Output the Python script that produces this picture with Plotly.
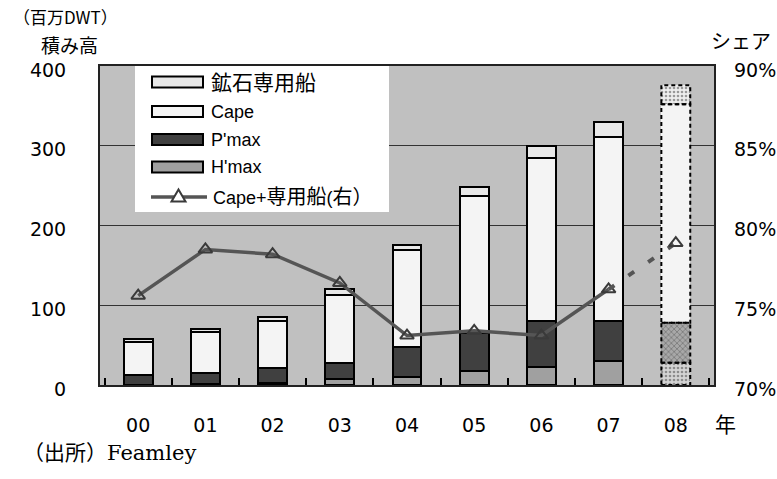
import numpy as np
import plotly.graph_objects as go

# ---- data (百万DWT / %) ----
years = ["00", "01", "02", "03", "04", "05", "06", "07", "08"]
hmax = [0, 1, 3, 7, 10, 18, 22, 30, 28]
pmax = [12, 14, 18, 21, 38, 47, 58, 50, 50]
cape = [42, 52, 59, 84.5, 121.5, 172.5, 205, 231, 274]
ore = [3.5, 3.5, 5.4, 8.5, 5.5, 10.5, 15, 19, 24]
share = [75.6, 78.5, 78.2, 76.4, 73.1, 73.4, 73.1, 76.0, 78.9]

series_names = ["H'max", "P'max", "Cape", "鉱石専用船"]
series_vals = [hmax, pmax, cape, ore]

# ---- styling ----
W, H = 777, 479
PL, PR, PT, PB = 100, 714, 66, 385
BG = "#c0c0c0"
fills = {"H'max": "#a0a0a0", "P'max": "#404040", "Cape": "#f4f4f4", "鉱石専用船": "#e8e8e8"}
# forecast-year (08) fills / patterns
fc_fill = {"H'max": "#d4d4d4", "P'max": "#a8a8a8", "Cape": "#f4f4f4", "鉱石専用船": "#eeeeee"}
fc_shape = {"H'max": ".", "P'max": "x", "Cape": "", "鉱石専用船": "."}
fc_fg = {"H'max": "#9a9a9a", "P'max": "#505050", "Cape": "#f4f4f4", "鉱石専用船": "#c8c8c8"}
LINE_C = "#555555"
MARK_C = "#3a3a3a"
BARGAP = 0.57
n = len(years)
last = n - 1

JP = "Noto Sans CJK JP"
SANS = "DejaVu Sans, " + JP


def px(x):
    return (x - PL) / (PR - PL)


def py(y):
    return (PB - y) / (PB - PT)


fig = go.Figure()

for name, vals in zip(series_names, series_vals):
    colors = [fills[name]] * last + [fc_fill[name]]
    shapes_ = [""] * last + [fc_shape[name]]
    fgs = [fills[name]] * last + [fc_fg[name]]
    lw = [2] * last + [0]
    fig.add_trace(go.Bar(
        x=years, y=vals, name=name, yaxis="y", showlegend=False,
        marker=dict(color=colors, line=dict(color="#000000", width=lw),
                    pattern=dict(shape=shapes_, fgcolor=fgs, fillmode="overlay",
                                 size=4, solidity=0.35)),
    ))

# share line: actual years solid, forecast segment dashed
fig.add_trace(go.Scatter(
    x=years[:last], y=share[:last], yaxis="y2", mode="lines+markers",
    showlegend=False, line=dict(color=LINE_C, width=3.5),
    marker=dict(symbol="triangle-up-open", size=12, color=MARK_C, line=dict(width=2, color=MARK_C)),
))
fig.add_trace(go.Scatter(
    x=years[last - 1:], y=share[last - 1:], yaxis="y2", mode="lines",
    showlegend=False, line=dict(color=LINE_C, width=4, dash="7px,17px"),
))
fig.add_trace(go.Scatter(
    x=years[last:], y=share[last:], yaxis="y2", mode="markers", showlegend=False,
    marker=dict(symbol="triangle-up-open", size=12, color=MARK_C, line=dict(width=2, color=MARK_C)),
))

shapes = []
# dashed outlines around the forecast-year stack segments
half = (1 - BARGAP) / 2
base = 0.0
for vals in series_vals:
    top = base + vals[last]
    shapes.append(dict(type="rect", xref="x", yref="y", x0=last - half, x1=last + half,
                       y0=base, y1=top, line=dict(color="#000000", width=2, dash="4px,3px"),
                       fillcolor="rgba(0,0,0,0)", layer="above"))
    base = top

# legend panel
shapes.append(dict(type="rect", xref="paper", yref="paper", x0=px(135), x1=px(389),
                   y0=py(212), y1=py(66), fillcolor="#ffffff", line=dict(width=0), layer="above"))
annotations = []
legend_rows = [("鉱石専用船", 82), ("Cape", 111.5), ("P'max", 139.5), ("H'max", 167)]
for name, yc in legend_rows:
    shapes.append(dict(type="rect", xref="paper", yref="paper", x0=px(152), x1=px(203),
                       y0=py(yc + 5.5), y1=py(yc - 5.5), fillcolor=fills[name],
                       line=dict(color="#000000", width=2), layer="above"))
    label = name if name != "鉱石専用船" else "<span style='font-size:21px'>鉱石専用船</span>"
    annotations.append(dict(xref="paper", yref="paper", x=px(209), y=py(yc), text=label,
                            xanchor="left", yanchor="middle", showarrow=False,
                            font=dict(family="Liberation Sans, " + JP, size=18, color="#000000")))
yl = 197
shapes.append(dict(type="line", xref="paper", yref="paper", x0=px(151), x1=px(207),
                   y0=py(yl), y1=py(yl), line=dict(color=LINE_C, width=3.5), layer="above"))
tri = "M {:.5f},{:.5f} L {:.5f},{:.5f} L {:.5f},{:.5f} Z".format(
    px(171.5), py(yl + 4.5), px(185.5), py(yl + 4.5), px(178.5), py(yl - 7.5))
shapes.append(dict(type="path", xref="paper", yref="paper", path=tri, fillcolor="#ffffff",
                   line=dict(color=MARK_C, width=2), layer="above"))
annotations.append(dict(xref="paper", yref="paper", x=px(211), y=py(yl),
                        text="Cape+<span style='font-size:20px'>専用船</span>(<span style='font-size:20px'>右）</span>",
                        xanchor="left", yanchor="middle", showarrow=False,
                        font=dict(family="Liberation Sans, " + JP, size=18, color="#000000")))

# axis titles and notes
annotations += [
    dict(xref="paper", yref="paper", x=px(65), y=py(16), text="（百万DWT）", showarrow=False,
         xanchor="center", yanchor="middle", font=dict(family=JP, size=17, color="#000000")),
    dict(xref="paper", yref="paper", x=px(69), y=py(44), text="積み高", showarrow=False,
         xanchor="center", yanchor="middle", font=dict(family=JP, size=19, color="#000000")),
    dict(xref="paper", yref="paper", x=px(741), y=py(40), text="シェア", showarrow=False,
         xanchor="center", yanchor="middle", font=dict(family=JP, size=20, color="#000000")),
    dict(xref="paper", yref="paper", x=px(725), y=py(423), text="年", showarrow=False,
         xanchor="center", yanchor="middle", font=dict(family=JP, size=21, color="#000000")),
    dict(xref="paper", yref="paper", x=px(21), y=py(453), text="（出所）Feamley", showarrow=False,
         xanchor="left", yanchor="middle", font=dict(family="DejaVu Serif, " + JP, size=21, color="#000000")),
]

fig.update_layout(
    width=W, height=H,
    margin=dict(l=PL, r=W - PR, t=PT, b=H - PB, pad=0),
    paper_bgcolor="#ffffff", plot_bgcolor=BG,
    barmode="stack", bargap=BARGAP,
    showlegend=False,
    shapes=shapes, annotations=annotations,
    xaxis=dict(type="category", categoryorder="array", categoryarray=years, automargin=False,
               tickson="boundaries", ticks="inside", ticklen=7, tickwidth=1.5, tickcolor="#000000",
               showline=True, mirror=True, linecolor="#222222", linewidth=2,
               showgrid=False, ticklabelstandoff=22,
               tickfont=dict(family=SANS, size=19, color="#000000")),
    yaxis=dict(range=[0, 400], dtick=100, showgrid=True, gridcolor="#333333", gridwidth=1,
               zeroline=False, showline=True, mirror=True, linecolor="#222222", linewidth=2,
               ticks="", ticklabelstandoff=28, ticklabelshift=4, automargin=False,
               tickfont=dict(family=SANS, size=19, color="#000000")),
    yaxis2=dict(range=[70, 90], dtick=5, ticksuffix="%", overlaying="y", side="right",
                showgrid=False, zeroline=False, showline=False, ticks="", automargin=False,
                ticklabelstandoff=19, ticklabelshift=4,
                tickfont=dict(family=SANS, size=19, color="#000000")),
)

fig.write_html("out.html")
